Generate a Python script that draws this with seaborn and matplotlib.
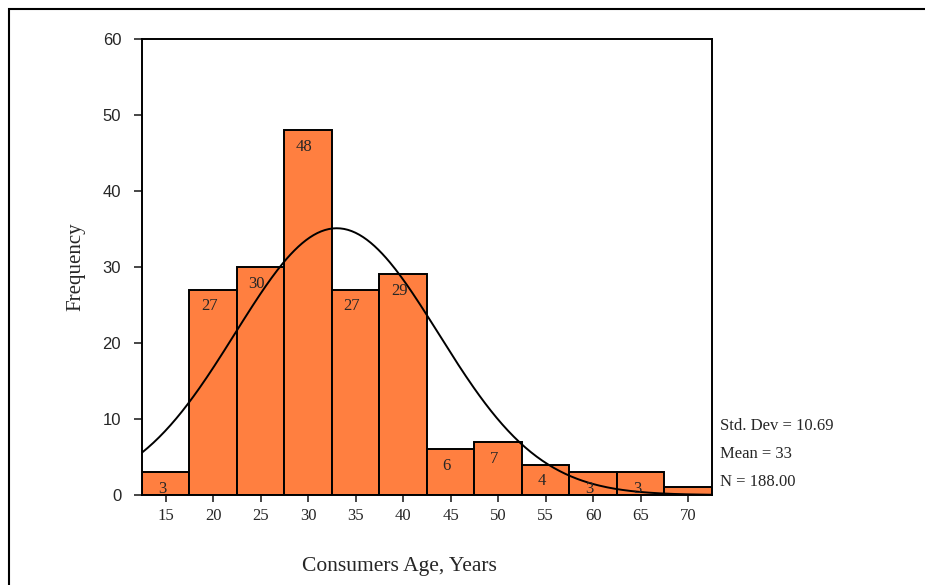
import matplotlib
matplotlib.use('Agg')
import matplotlib.pyplot as plt
import matplotlib.patches as patches
import seaborn as sns
import numpy as np
import pandas as pd

# histogram data (bin centres, counts)
age_centres = [15, 20, 25, 30, 35, 40, 45, 50, 55, 60, 65, 70]
counts = [3, 27, 30, 48, 27, 29, 6, 7, 4, 3, 3, 1]
bin_width = 5

# summary stats printed on the chart
std_dev = 10.69
mean_age = 33
n_total = 188.00

y_ticks = [0, 10, 20, 30, 40, 50, 60]

sns.set_style('white')
plt.rcParams['font.family'] = ['Liberation Serif', 'DejaVu Serif']

df = pd.DataFrame({'age': age_centres, 'count': counts})
edges = [c - bin_width / 2 for c in age_centres] + [age_centres[-1] + bin_width / 2]

fig = plt.figure(figsize=(9.25, 5.85), dpi=100)
ax = fig.add_axes([0.1535, 0.1538, 0.6162, 0.78])

sns.histplot(data=df, x='age', weights='count', bins=edges, ax=ax,
             color='#FF7F40', alpha=1, edgecolor='black', linewidth=1.4)

# fitted normal curve from the printed mean / sd / N
xs = np.linspace(edges[0], edges[-1], 300)
ys = n_total * bin_width * np.exp(-0.5 * ((xs - mean_age) / std_dev) ** 2) / (std_dev * np.sqrt(2 * np.pi))
sns.lineplot(x=xs, y=ys, ax=ax, color='black', linewidth=1.4)

# count labels inside bars
for c, v in zip(age_centres, counts):
    if v >= 2:
        ax.text(c - 0.4, v - 2.2, str(v), ha='center', va='center', fontsize=12)

ax.set_xlim(edges[0], edges[-1])
ax.set_ylim(0, 60)
ax.set_xticks(age_centres)
ax.set_yticks(y_ticks)
ax.set_xticklabels([str(a) for a in age_centres], fontsize=12)
ax.set_yticklabels([str(t) for t in y_ticks], fontsize=12, family='Liberation Sans')
ax.tick_params(axis='x', direction='out', length=5, width=1.2, pad=4, bottom=True)
ax.tick_params(axis='y', direction='out', length=6, width=1.2, pad=9, left=True)
for sp in ax.spines.values():
    sp.set_visible(True)
    sp.set_color('black')
    sp.set_linewidth(1.4)

ax.set_xlabel('Consumers Age, Years', fontsize=15.5)
ax.xaxis.set_label_coords(0.451, -0.135)
ax.set_ylabel('Frequency', fontsize=15, labelpad=12)

# stats box to the right
fig.text(720 / 925, 1 - 426 / 585, f'Std. Dev = {std_dev:.2f}', fontsize=12, va='center')
fig.text(720 / 925, 1 - 454 / 585, f'Mean = {mean_age}', fontsize=12, va='center')
fig.text(720 / 925, 1 - 482 / 585, f'N = {n_total:.2f}', fontsize=12, va='center')

# outer frame (left and top edge visible)
fig.add_artist(patches.Rectangle((9 / 925, -0.5), 1.5, 0.5 + 1 - 9 / 585, fill=False,
                                 edgecolor='black', linewidth=1.5,
                                 transform=fig.transFigure, clip_on=False))

fig.savefig('out.png', dpi=100)
plt.close(fig)
